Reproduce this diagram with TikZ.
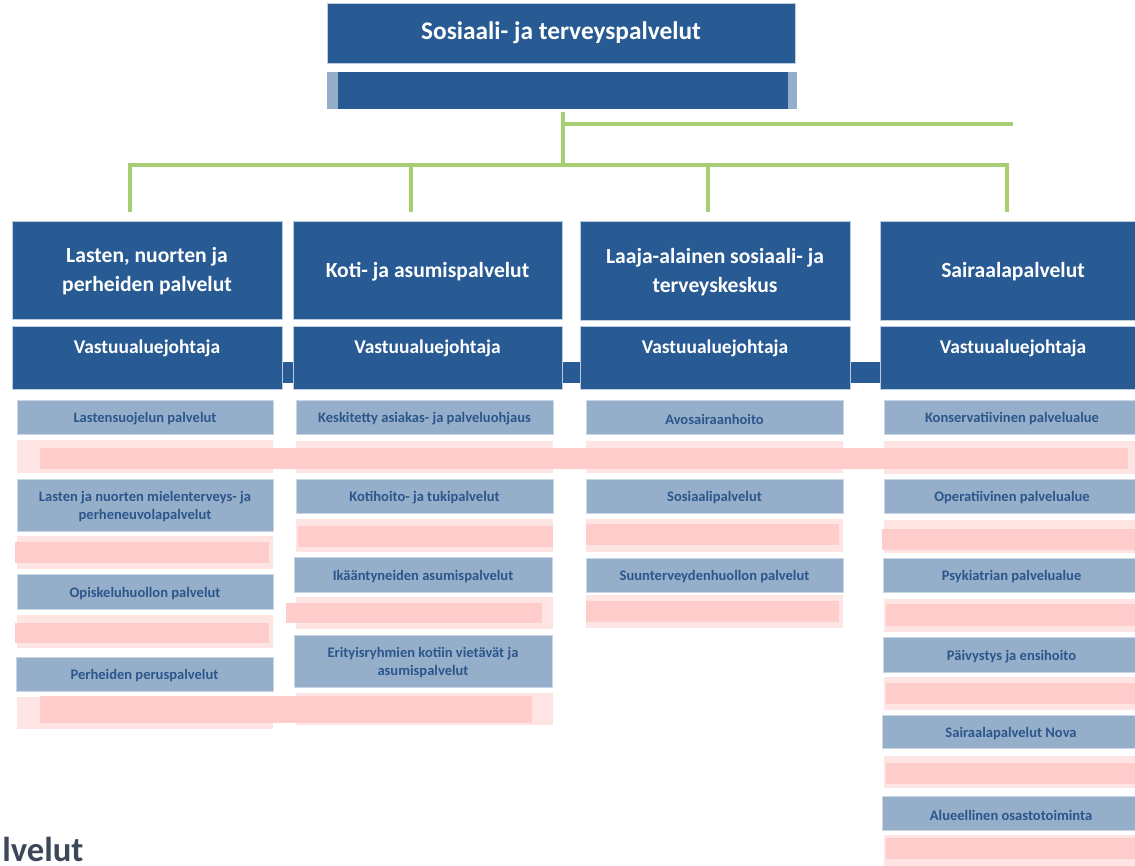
\documentclass[tikz,border=0pt]{standalone}
\usepackage{fontspec}
\setmainfont{Carlito}
\usetikzlibrary{fit}
\definecolor{hdrblue}{RGB}{40,90,147}
\definecolor{hdredge}{RGB}{190,205,222}
\definecolor{subblue}{RGB}{149,175,202}
\definecolor{subedge}{RGB}{200,214,230}
\definecolor{subtext}{RGB}{44,86,139}
\definecolor{lgreen}{RGB}{168,206,115}
\definecolor{pinkL}{RGB}{255,228,228}
\definecolor{pinkD}{RGB}{255,204,204}
\definecolor{slate}{RGB}{60,72,90}
\begin{document}
\begin{tikzpicture}[x=0.75pt,y=-0.75pt,
  hdrbox/.style={fill=hdrblue, draw=hdredge, line width=0.6pt, inner sep=0pt},
  subbox/.style={fill=subblue, draw=subedge, line width=0.6pt, inner sep=0pt},
  toptxt/.style={inner sep=0pt, text=white, font=\bfseries\fontsize{19}{23}\selectfont},
  hdrtxt/.style={inner sep=0pt, text=white, align=center, font=\bfseries\fontsize{16.2}{21.5}\selectfont},
  vsttxt/.style={inner sep=0pt, text=white, font=\bfseries\fontsize{14.6}{17}\selectfont},
  subtxt/.style={inner sep=0pt, text=subtext, align=center, yshift=-1.5pt, font=\bfseries\fontsize{10.9}{13.5}\selectfont},
  pl/.style={fill=pinkL, inner sep=0pt},
  pd/.style={fill=pinkD, inner sep=0pt},
  conn/.style={draw=lgreen, line width=2.6pt, line join=miter},
  plain/.style={fill=#1, inner sep=0pt}]
\useasboundingbox (0,0) rectangle (1135,865);
\clip (0,0) rectangle (1135,865);

% top
\node[hdrbox, fit={(327,3)(795,63)}] (top) {};
\node[toptxt] (topt) at (top.center) {Sosiaali- ja terveyspalvelut};
\node[plain=subblue, fit={(327,72)(797,109)}] (top2) {};
\node[plain=hdrblue, fit={(338,72)(788,109)}] (top2c) {};

% connectors
\coordinate (j1) at (563,124);
\coordinate (j2) at (563,165);
\coordinate (rEnd) at (1013,124);
\coordinate (b1) at (130,165);
\coordinate (b2) at (411,165);
\coordinate (b3) at (708,165);
\coordinate (b4) at (1007,165);
\coordinate (t1) at (130,212);
\coordinate (t2) at (411,212);
\coordinate (t3) at (708,212);
\coordinate (t4) at (1007,212);
\draw[conn] ([yshift=-2pt]top2.south -| j1) -- (j2);
\draw[conn] (j1) -- (rEnd);
\draw[conn] (t1) -- (b1) -- (b4) -- (t4);
\draw[conn] (b2) -- (t2);
\draw[conn] (b3) -- (t3);

% headers
\node[hdrbox, fit={(12,221)(282,319)}] (h1) {};
\node[hdrbox, fit={(293,221)(562,319)}] (h2) {};
\node[hdrbox, fit={(580,221)(850,320)}] (h3) {};
\node[hdrbox, fit={(880,221)(1146,320)}] (h4) {};
\node[hdrtxt] (h1t) at ([yshift=-1pt]h1.center) {Lasten, nuorten ja\\perheiden palvelut};
\node[hdrtxt] (h2t) at ([yshift=-1pt]h2.center) {Koti- ja asumispalvelut};
\node[hdrtxt] (h3t) at ([yshift=-1pt]h3.center) {Laaja-alainen sosiaali- ja\\terveyskeskus};
\node[hdrtxt] (h4t) at ([yshift=-1pt]h4.center) {Sairaalapalvelut};

% vastuualuejohtaja row
\node[plain=hdrblue, fit={(270,362)(890,383)}] (vbar) {};
\node[hdrbox, fit={(12,326)(282,389)}] (v1) {};
\node[hdrbox, fit={(293,326)(562,389)}] (v2) {};
\node[hdrbox, fit={(580,326)(850,389)}] (v3) {};
\node[hdrbox, fit={(880,326)(1146,389)}] (v4) {};
\node[vsttxt] (v1t) at ([yshift=7pt]v1.center) {Vastuualuejohtaja};
\node[vsttxt] (v2t) at ([yshift=7pt]v2.center) {Vastuualuejohtaja};
\node[vsttxt] (v3t) at ([yshift=7pt]v3.center) {Vastuualuejohtaja};
\node[vsttxt] (v4t) at ([yshift=7pt]v4.center) {Vastuualuejohtaja};

% light pink backgrounds
\node[pl, fit={(17,440)(273,473)}] (p11) {};
\node[pl, fit={(17,536)(273,569)}] (p12) {};
\node[pl, fit={(17,615)(273,648)}] (p13) {};
\node[pl, fit={(17,697)(273,729)}] (p14) {};
\node[pl, fit={(296,441)(553,473)}] (p21) {};
\node[pl, fit={(296,519)(553,552)}] (p22) {};
\node[pl, fit={(296,597)(553,629)}] (p23) {};
\node[pl, fit={(296,693)(553,725)}] (p24) {};
\node[pl, fit={(586,441)(843,473)}] (p31) {};
\node[pl, fit={(586,519)(843,552)}] (p32) {};
\node[pl, fit={(586,595)(843,628)}] (p33) {};
\node[pl, fit={(884,441)(1140,474)}] (p41) {};
\node[pl, fit={(884,520)(1140,553)}] (p42) {};
\node[pl, fit={(884,599)(1140,632)}] (p43) {};
\node[pl, fit={(884,677)(1140,710)}] (p44) {};
\node[pl, fit={(884,756)(1140,788)}] (p45) {};
\node[pl, fit={(884,835)(1140,870)}] (p46) {};

% dark pink bars
\node[pd, fit={(40,448)(1128,469)}] (d1) {};
\node[pd, fit={(15,542)(269,563)}] (d12) {};
\node[pd, fit={(15,623)(269,643)}] (d13) {};
\node[pd, fit={(40,696)(532,723)}] (d14) {};
\node[pd, fit={(298,526)(553,547)}] (d22) {};
\node[pd, fit={(286,603)(542,623)}] (d23) {};
\node[pd, fit={(586,524)(839,545)}] (d32) {};
\node[pd, fit={(586,601)(839,622)}] (d33) {};
\node[pd, fit={(882,529)(1140,550)}] (d42) {};
\node[pd, fit={(886,604)(1140,626)}] (d43) {};
\node[pd, fit={(886,683)(1140,704)}] (d44) {};
\node[pd, fit={(886,763)(1140,784)}] (d45) {};
\node[pd, fit={(886,838)(1140,859)}] (d46) {};

% sub-unit boxes
\node[subbox, fit={(17,400)(273,434)}] (s11) {};
\node[subbox, fit={(17,479)(273,531)}] (s12) {};
\node[subbox, fit={(17,574)(273,609)}] (s13) {};
\node[subbox, fit={(16,657)(273,691)}] (s14) {};
\node[subbox, fit={(296,400)(553,434)}] (s21) {};
\node[subbox, fit={(296,479)(553,513)}] (s22) {};
\node[subbox, fit={(294,557)(552,592)}] (s23) {};
\node[subbox, fit={(294,635)(552,687)}] (s24) {};
\node[subbox, fit={(586,400)(843,434)}] (s31) {};
\node[subbox, fit={(586,479)(843,513)}] (s32) {};
\node[subbox, fit={(586,558)(843,592)}] (s33) {};
\node[subbox, fit={(884,400)(1140,434)}] (s41) {};
\node[subbox, fit={(884,479)(1140,513)}] (s42) {};
\node[subbox, fit={(883,558)(1140,592)}] (s43) {};
\node[subbox, fit={(883,637)(1140,672)}] (s44) {};
\node[subbox, fit={(882,715)(1140,748)}] (s45) {};
\node[subbox, fit={(882,796)(1140,830)}] (s46) {};

\node[subtxt] (s11t) at (s11.center) {Lastensuojelun palvelut};
\node[subtxt] (s12t) at (s12.center) {Lasten ja nuorten mielenterveys- ja\\perheneuvolapalvelut};
\node[subtxt] (s13t) at (s13.center) {Opiskeluhuollon palvelut};
\node[subtxt] (s14t) at (s14.center) {Perheiden peruspalvelut};
\node[subtxt] (s21t) at (s21.center) {Keskitetty asiakas- ja palveluohjaus};
\node[subtxt] (s22t) at (s22.center) {Kotihoito- ja tukipalvelut};
\node[subtxt] (s23t) at (s23.center) {Ikääntyneiden asumispalvelut};
\node[subtxt] (s24t) at (s24.center) {Erityisryhmien kotiin vietävät ja\\asumispalvelut};
\node[subtxt] (s31t) at (s31.center) {Avosairaanhoito};
\node[subtxt] (s32t) at (s32.center) {Sosiaalipalvelut};
\node[subtxt] (s33t) at (s33.center) {Suunterveydenhuollon palvelut};
\node[subtxt] (s41t) at (s41.center) {Konservatiivinen palvelualue};
\node[subtxt] (s42t) at (s42.center) {Operatiivinen palvelualue};
\node[subtxt] (s43t) at (s43.center) {Psykiatrian palvelualue};
\node[subtxt] (s44t) at (s44.center) {Päivystys ja ensihoito};
\node[subtxt] (s45t) at (s45.center) {Sairaalapalvelut Nova};
\node[subtxt] (s46t) at (s46.center) {Alueellinen osastotoiminta};

% cut-off heading at bottom left
\node[anchor=base west, inner sep=0pt, text=slate, font=\bfseries\fontsize{26}{30}\selectfont] (tail) at (2,861) {lvelut};
\end{tikzpicture}
\end{document}
